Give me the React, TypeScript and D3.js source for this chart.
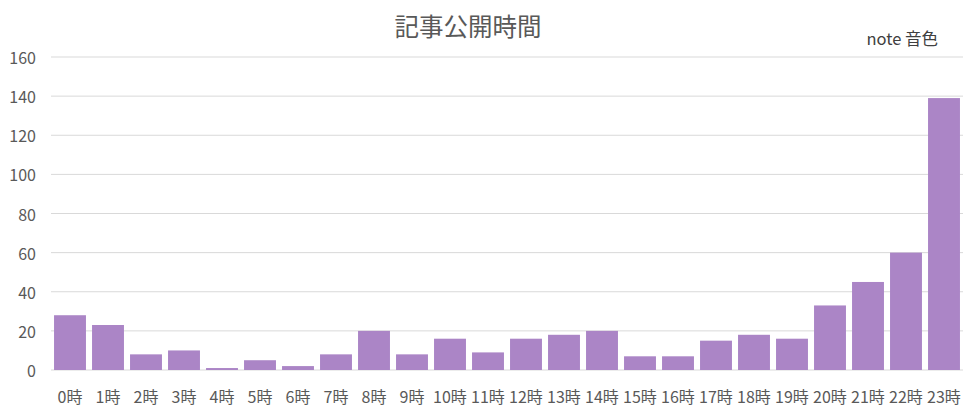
import React from "react";
import * as d3 from "d3";

const categories = ["0時","1時","2時","3時","4時","5時","6時","7時","8時","9時","10時","11時","12時","13時","14時","15時","16時","17時","18時","19時","20時","21時","22時","23時"];
const values = [28,23,8,10,1,5,2,8,20,8,16,9,16,18,20,7,7,15,18,16,33,45,60,139];
const yTicks = [0,20,40,60,80,100,120,140,160];
const title = "記事公開時間";
const note = "note 音色";

const W = 971, H = 411;
const left = 51, right = 963, top = 57, bottom = 370;
const FONT = "'Noto Sans CJK JP', 'Noto Sans', sans-serif";
const TEXT = "#595959";

export default function App() {
  const x = d3.scaleBand<string>().domain(categories).range([left, right]).paddingInner(0.16).paddingOuter(0.08);
  const y = d3.scaleLinear().domain([0, 160]).range([bottom, top]);
  return (
    <div style={{ position: "fixed", left: 0, top: 0 }}>
      <svg width={W} height={H} style={{ display: "block", background: "#fff" }}>
        <text x={468} y={25} textAnchor="middle" dominantBaseline="central" fontFamily={FONT} fontSize={24.5} fill={TEXT}>{title}</text>
        <text x={938} y={38} textAnchor="end" dominantBaseline="central" fontFamily={FONT} fontSize={16.5} fill="#404040">{note}</text>
        {yTicks.map(t => (
          <g key={t}>
            <line x1={left} x2={right} y1={y(t)} y2={y(t)} stroke="#d9d9d9" strokeWidth={1} />
            <text x={36} y={y(t)} textAnchor="end" dominantBaseline="central" fontFamily={FONT} fontSize={16} fill={TEXT}>{t}</text>
          </g>
        ))}
        {categories.map((c, i) => (
          <rect key={c} x={x(c)} y={y(values[i])} width={x.bandwidth()} height={y(0) - y(values[i])} fill="#ab85c6" />
        ))}
        {categories.map(c => (
          <text key={c} x={(x(c) as number) + x.bandwidth() / 2} y={396} textAnchor="middle" dominantBaseline="central" fontFamily={FONT} fontSize={16} fill={TEXT}>{c}</text>
        ))}
      </svg>
    </div>
  );
}
